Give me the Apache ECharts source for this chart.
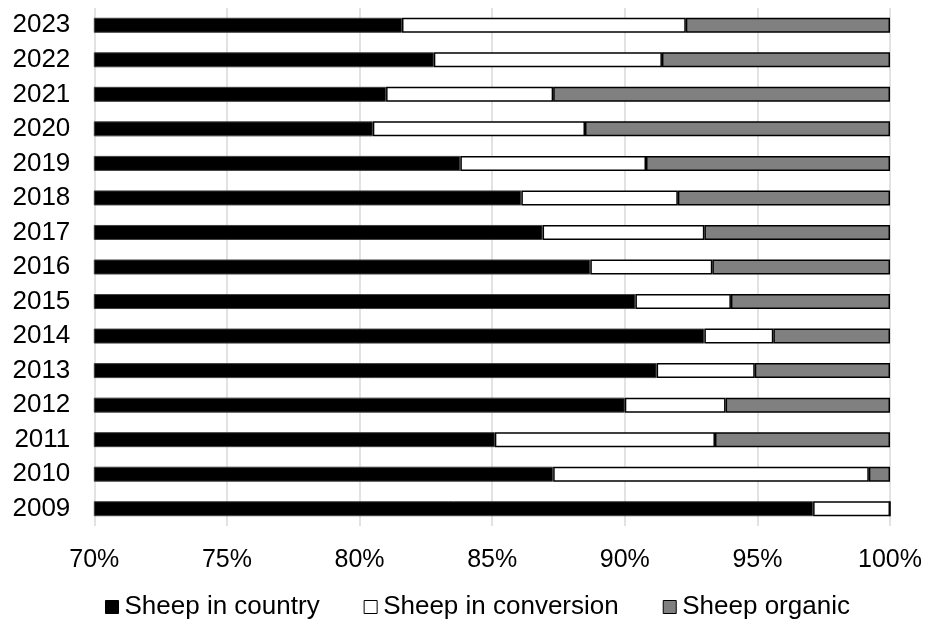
<!DOCTYPE html>
<html>
<head>
<meta charset="utf-8">
<style>
  html, body { margin: 0; padding: 0; background: #fff; }
  #chart { width: 925px; height: 625px; }
</style>
<script src="https://cdn.jsdelivr.net/npm/echarts@6/dist/echarts.min.js"></script>
</head>
<body>
<div id="chart"></div>
<script>
// Share of sheep by status, per year (percent of total)
const years = ['2009','2010','2011','2012','2013','2014','2015','2016','2017','2018','2019','2020','2021','2022','2023'];
const sheepInCountry    = [97.1, 87.3, 85.1, 90.0, 91.2, 93.0, 90.4, 88.7, 86.9, 86.1, 83.8, 80.5, 81.0, 82.8, 81.6];
const sheepInConversion = [ 2.9, 11.9,  8.3,  3.8,  3.7,  2.6,  3.6,  4.6,  6.1,  5.9,  7.0,  8.0,  6.3,  8.6, 10.7];
const sheepOrganic      = [ 0.0,  0.8,  6.6,  6.2,  5.1,  4.4,  6.0,  6.7,  7.0,  8.0,  9.2, 11.5, 12.7,  8.6,  7.7];
const xTicks = [70, 75, 80, 85, 90, 95, 100];

const font = '"Liberation Sans", Arial, sans-serif';
const chart = echarts.init(document.getElementById('chart'), null, { renderer: 'canvas' });

function barSeries(name, data, color, border, bw) {
  return {
    name: name,
    type: 'bar',
    stack: 'total',
    data: data,
    barWidth: 15,
    itemStyle: { color: color, borderColor: border, borderWidth: bw },
    emphasis: { disabled: true }
  };
}

chart.setOption({
  animation: false,
  grid: { left: 94.3, right: 34.3, top: 8, bottom: 99, containLabel: false },
  xAxis: {
    type: 'value',
    min: xTicks[0],
    max: xTicks[xTicks.length - 1],
    interval: 5,
    axisLine: { show: false },
    axisTick: { show: false },
    splitLine: { show: true, lineStyle: { color: '#d9d9d9', width: 1.5 } },
    axisLabel: {
      formatter: v => v + '%',
      color: '#000',
      fontFamily: font,
      fontSize: 25,
      margin: 22
    }
  },
  yAxis: {
    type: 'category',
    data: years,
    axisLine: { show: false },
    axisTick: { show: false },
    axisLabel: { color: '#000', fontFamily: font, fontSize: 26, margin: 24 }
  },
  legend: {
    top: 589,
    left: 100,
    itemWidth: 13,
    itemHeight: 13,
    itemGap: 44,
    icon: 'rect',
    textStyle: { color: '#000', fontFamily: font, fontSize: 26, padding: [0, 0, 0, 1] },
    data: [
      { name: 'Sheep in country', itemStyle: { color: '#000', borderColor: '#000', borderWidth: 1 } },
      { name: 'Sheep in conversion', itemStyle: { color: '#fff', borderColor: '#000', borderWidth: 1 } },
      { name: 'Sheep organic', itemStyle: { color: '#808080', borderColor: '#000', borderWidth: 1 } }
    ]
  },
  series: [
    barSeries('Sheep in country', sheepInCountry, '#000', '#404040', 1),
    barSeries('Sheep in conversion', sheepInConversion, '#fff', '#000', 1.5),
    barSeries('Sheep organic', sheepOrganic, '#808080', '#000', 1.5)
  ]
});
</script>
</body>
</html>
